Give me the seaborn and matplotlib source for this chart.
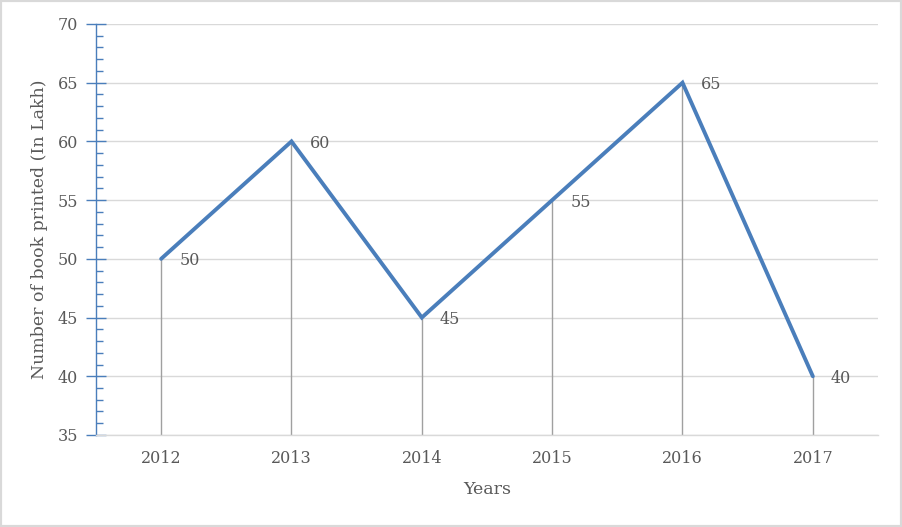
import numpy as np
import pandas as pd
import matplotlib
matplotlib.use('Agg')
import matplotlib.pyplot as plt
import seaborn as sns
from matplotlib.patches import Rectangle
from matplotlib.ticker import MultipleLocator

# data
years = ['2012', '2013', '2014', '2015', '2016', '2017']
books = [50, 60, 45, 55, 65, 40]

df = pd.DataFrame({'year': years, 'books': books})
df['pos'] = np.arange(len(years))

sns.set_style('white')
plt.rcParams['font.family'] = ['DejaVu Serif']

text_col = '#595959'
line_col = '#4A7EBB'
fs = 11.5

fig = plt.figure(figsize=(9.02, 5.27), dpi=100)
ax = fig.add_axes([0.1064, 0.1746, 0.8670, 0.7799])

# gridlines and drop lines
ax.yaxis.grid(True, color='#D9D9D9', linewidth=1)
ax.set_axisbelow(True)
ax.vlines(df['pos'], 35, df['books'], color='#A0A0A0', linewidth=1, zorder=2)

sns.lineplot(ax=ax, data=df, x='pos', y='books', color=line_col, linewidth=2.8,
             zorder=3, solid_joinstyle='miter')

# value labels
for p, v in zip(df['pos'], df['books']):
    ax.annotate(str(v), (p, v), xytext=(13, -1.5), textcoords='offset points',
                ha='left', va='center', color=text_col, fontsize=fs)

ax.set_xlim(-0.5, len(years) - 0.5)
ax.set_ylim(35, 70)
ax.set_xticks(df['pos'])
ax.set_xticklabels(years)
ax.yaxis.set_major_locator(MultipleLocator(5))
ax.yaxis.set_minor_locator(MultipleLocator(1))

ax.tick_params(axis='x', length=0, pad=11, colors=text_col, labelsize=fs)
ax.tick_params(axis='y', which='major', direction='inout', length=14, width=1,
               color=line_col, labelcolor=text_col, pad=6, labelsize=fs, left=True)
ax.tick_params(axis='y', which='minor', direction='in', length=5, width=1,
               color=line_col, left=True)

for s in ['top', 'right']:
    ax.spines[s].set_visible(False)
ax.spines['left'].set_color(line_col)
ax.spines['left'].set_linewidth(1)
ax.spines['bottom'].set_color('#D9D9D9')
ax.spines['bottom'].set_linewidth(1)

ax.set_xlabel('Years', color=text_col, fontsize=12.5, labelpad=10)
ax.set_ylabel('Number of book printed (In Lakh)', color=text_col, fontsize=12.5, labelpad=7)

fig.add_artist(Rectangle((0, 0), 1, 1, transform=fig.transFigure, fill=False,
                         edgecolor='#D9D9D9', linewidth=3))

fig.savefig('out.png', dpi=100)
